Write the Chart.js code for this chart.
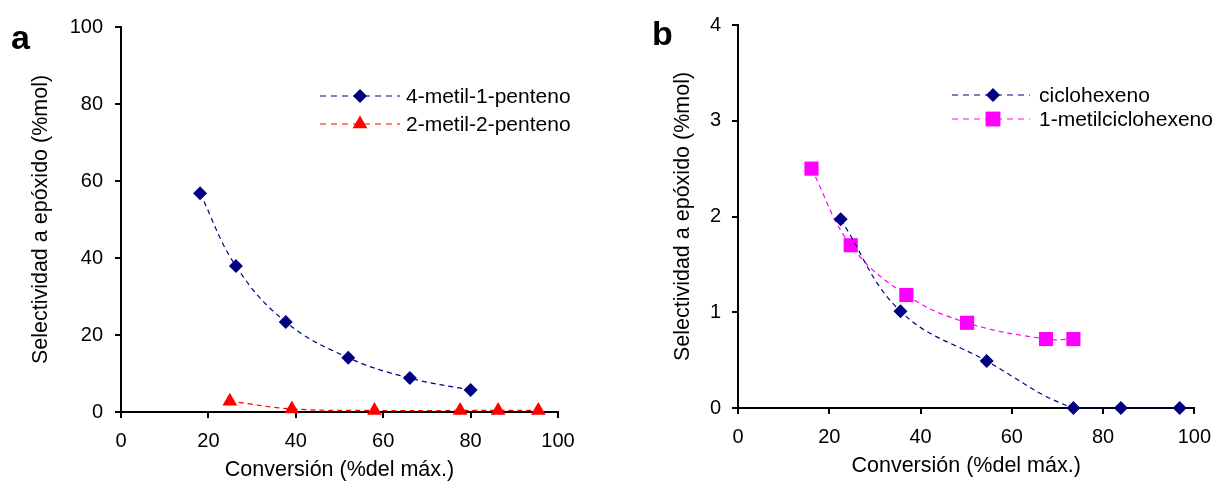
<!DOCTYPE html>
<html>
<head>
<meta charset="utf-8">
<script src="https://cdn.jsdelivr.net/npm/chart.js@4.4.0/dist/chart.umd.min.js"></script>
<style>
  body { margin: 0; background: #fff; width: 1222px; height: 488px; position: relative; overflow: hidden; font-family: "Liberation Sans", Arial, sans-serif; }
  .box { position: absolute; top: 0; width: 611px; height: 488px; }
  #boxA { left: 0; }
  #boxB { left: 611px; }
  .tag { position: absolute; font-weight: bold; font-size: 34px; line-height: 1; color: #000; }
</style>
</head>
<body>
<div class="box" id="boxA"><canvas id="chartA" width="611" height="488"></canvas></div>
<div class="box" id="boxB"><canvas id="chartB" width="611" height="488"></canvas></div>
<div class="tag" style="left:11px;top:20px">a</div>
<div class="tag" style="left:652px;top:16px">b</div>
<script>
// panel a
const metilPentenoX = [18.1, 26.3, 37.7, 52.0, 66.1, 80.0];
const metilPentenoY = [56.8, 37.9, 23.4, 14.1, 8.8, 5.7];
const dimetilPentenoX = [24.9, 39.1, 58.0, 77.6, 86.3, 95.5];
const dimetilPentenoY = [2.8, 0.8, 0.4, 0.4, 0.4, 0.4];

// panel b
const ciclohexenoX = [22.5, 35.6, 54.5, 73.5, 83.9, 96.8];
const ciclohexenoY = [1.97, 1.01, 0.49, 0, 0, 0];
const metilcicloX = [16.1, 24.7, 36.9, 50.2, 67.5, 73.5];
const metilcicloY = [2.50, 1.70, 1.18, 0.89, 0.72, 0.72];

const labelsA = ['4-metil-1-penteno', '2-metil-2-penteno'];
const labelsB = ['ciclohexeno', '1-metilciclohexeno'];
const xTitle = 'Conversión (%del máx.)';
const yTitle = 'Selectividad a epóxido (%mol)';

const FONT = '"Liberation Sans", Arial, sans-serif';

function pts(xs, ys) {
  return xs.map((x, i) => ({x: x, y: ys[i]}));
}

function series(label, xs, ys, color, style, radius) {
  return {
    label: label,
    data: pts(xs, ys),
    borderColor: color,
    backgroundColor: color,
    borderWidth: 1.2,
    borderDash: [5, 4],
    tension: 0.4,
    pointStyle: style,
    pointRadius: radius,
    pointHoverRadius: radius,
    pointBorderWidth: 0,
    clip: false
  };
}

function marker(ctx, style, r, x, y, color) {
  ctx.save();
  ctx.fillStyle = color;
  ctx.beginPath();
  if (style === 'rectRot') {
    ctx.moveTo(x - r, y); ctx.lineTo(x, y - r); ctx.lineTo(x + r, y); ctx.lineTo(x, y + r);
  } else if (style === 'triangle') {
    ctx.moveTo(x, y - r);
    ctx.lineTo(x + r * 0.866, y + r * 0.5);
    ctx.lineTo(x - r * 0.866, y + r * 0.5);
  } else {
    const h = r * Math.SQRT1_2;
    ctx.rect(x - h, y - h, 2 * h, 2 * h);
  }
  ctx.closePath();
  ctx.fill();
  ctx.restore();
}

// legend with dashed line sample and marker, like the original
const lineLegend = {
  id: 'lineLegend',
  afterDraw(chart, args, o) {
    const ctx = chart.ctx;
    chart.data.datasets.forEach((ds, i) => {
      const y = o.y + i * o.dy;
      ctx.save();
      ctx.strokeStyle = ds.borderColor;
      ctx.lineWidth = 1.2;
      ctx.setLineDash([6, 5]);
      ctx.beginPath();
      ctx.moveTo(o.x0, y);
      ctx.lineTo(o.x1, y);
      ctx.stroke();
      ctx.restore();
      marker(ctx, ds.pointStyle, o.radius[i], o.mx, y, ds.backgroundColor);
      ctx.save();
      ctx.fillStyle = '#000';
      ctx.font = '21px ' + FONT;
      ctx.textBaseline = 'middle';
      ctx.fillText(ds.label, o.tx, y + 1);
      ctx.restore();
    });
  }
};

function makeOptions(c) {
  return {
    responsive: false,
    animation: false,
    layout: { padding: { top: c.top, right: c.right, bottom: 0, left: 0 } },
    plugins: {
      legend: { display: false },
      tooltip: { enabled: false },
      lineLegend: c.legend
    },
    scales: {
      x: {
        type: 'linear',
        min: 0, max: 100,
        afterFit: s => { s.height = c.xHeight; },
        border: { color: '#000', width: 2 },
        grid: { drawOnChartArea: false, drawTicks: true, tickLength: 6, color: '#000', lineWidth: 2 },
        ticks: { stepSize: 20, padding: 11, color: '#000', font: { family: FONT, size: 20 } },
        title: { display: true, text: xTitle, color: '#000', font: { family: FONT, size: 21.5 }, padding: { top: 0, bottom: c.xTitlePad } }
      },
      y: {
        min: 0, max: c.yMax,
        afterFit: s => { s.width = c.yWidth; },
        border: { color: '#000', width: 2 },
        grid: { drawOnChartArea: false, drawTicks: true, tickLength: 6, color: '#000', lineWidth: 2 },
        ticks: { stepSize: c.yStep, padding: c.yTickPad, color: '#000', font: { family: FONT, size: 20 } },
        title: { display: true, text: yTitle, color: '#000', font: { family: FONT, size: 21.5 }, padding: { top: c.yTitlePad, bottom: 0 } }
      }
    }
  };
}

new Chart(document.getElementById('chartA'), {
  type: 'line',
  data: {
    datasets: [
      series(labelsA[0], metilPentenoX, metilPentenoY, '#000080', 'rectRot', 7),
      series(labelsA[1], dimetilPentenoX, dimetilPentenoY, '#ff0000', 'triangle', 8.5)
    ]
  },
  options: makeOptions({
    top: 27, right: 53, xHeight: 76, yWidth: 121, yMax: 100, yStep: 20,
    yTickPad: 12, xTitlePad: 5, yTitlePad: 28,
    legend: { x0: 320, x1: 400, mx: 360, tx: 406, y: 96, dy: 28, radius: [7, 8.5] }
  }),
  plugins: [lineLegend]
});

new Chart(document.getElementById('chartB'), {
  type: 'line',
  data: {
    datasets: [
      series(labelsB[0], ciclohexenoX, ciclohexenoY, '#000080', 'rectRot', 7),
      series(labelsB[1], metilcicloX, metilcicloY, '#ff00ff', 'rect', 10)
    ]
  },
  options: makeOptions({
    top: 25, right: 20, xHeight: 80, yWidth: 127, yMax: 4, yStep: 1,
    yTickPad: 11, xTitlePad: 9, yTitlePad: 59,
    legend: { x0: 341, x1: 419, mx: 382, tx: 428, y: 95, dy: 24, radius: [7, 10.5] }
  }),
  plugins: [lineLegend]
});
</script>
</body>
</html>
